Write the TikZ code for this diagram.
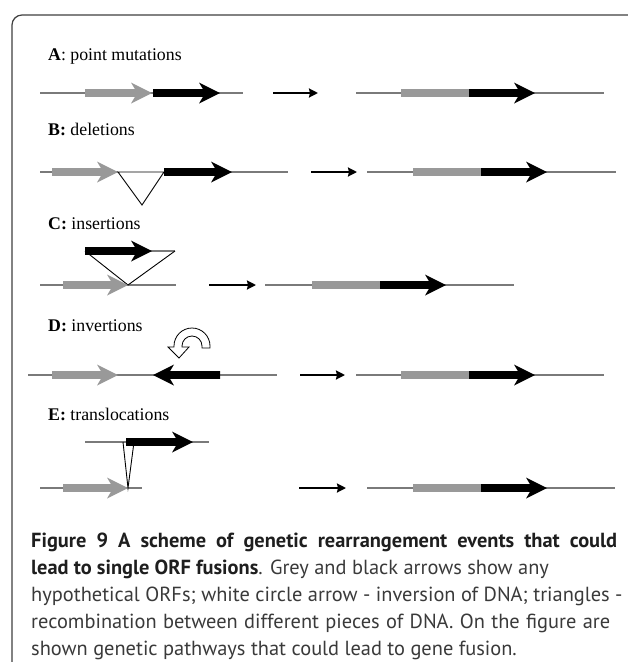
\documentclass[tikz,border=0pt]{standalone}
\usepackage{fontspec}
\setmainfont{Liberation Serif}
\newfontfamily\capfont{PT Sans}
\usetikzlibrary{arrows.meta}
\definecolor{ggrey}{HTML}{999999}
\definecolor{dnagrey}{HTML}{7A7A7A}
\definecolor{capgrey}{HTML}{3A3A3A}
\definecolor{capdark}{HTML}{1E1E1E}
% right-pointing ORF arrow: start x, tip x, y, colour
\newcommand\orfR[4]{\fill[#4] (#1,#3-3.8) -- (#2-17,#3-3.8) -- (#2-21,#3-10.5) -- (#2,#3) -- (#2-21,#3+10.5) -- (#2-17,#3+3.8) -- (#1,#3+3.8) -- cycle;}
% left-pointing ORF arrow: tip x, end x, y, colour
\newcommand\orfL[4]{\fill[#4] (#2,#3-3.8) -- (#1+17,#3-3.8) -- (#1+21,#3-10.5) -- (#1,#3) -- (#1+21,#3+10.5) -- (#1+17,#3+3.8) -- (#2,#3+3.8) -- cycle;}
% fused ORF: grey start x, tip x, y
\newcommand\fusedorf[3]{\fill[ggrey] (#1,#3-3.8) rectangle (#1+68,#3+3.8); \orfR{#1+68}{#2}{#3}{black}}
\newcommand\capbold[1]{{\bfseries\color{capdark}#1}}
\tikzset{
  dna/.style={draw=dnagrey, line width=1.3pt},
  tri/.style={draw=black, line width=0.9pt, line join=miter},
  react/.style={draw=black, line width=2.6pt, -{Stealth[length=9pt,width=9pt,inset=1pt]}},
  lbl/.style={anchor=base west, inner sep=0pt, font=\fontsize{17.8}{20}\selectfont},
  captxt/.style={anchor=base west, inner sep=0pt, text=capgrey, font=\capfont\fontsize{20.4}{24}\selectfont}
}
\begin{document}
\begin{tikzpicture}[x=1pt,y=-1pt]
\useasboundingbox (0,0) rectangle (628,662);
\clip (0,0) rectangle (628,662);
\fill[white] (0,0) rectangle (628,662);
% frame
\draw[line width=1.2pt, black!75, rounded corners=10pt] (12,690) -- (12,15) -- (638,15) -- (638,690);

% ---------- A ----------
\node[lbl] (la) at (48,60) {\textbf{A}: point mutations};
\draw[dna] (40,93) -- (243,93);
\orfR{85}{152}{93}{ggrey}
\orfR{153}{220}{93}{black}
\coordinate (ra1) at (273,93); \coordinate (ra2) at (318,93);
\draw[react] (ra1) -- (ra2);
\draw[dna] (356,93) -- (604,93);
\fusedorf{401}{535}{93}

% ---------- B ----------
\node[lbl] (lb) at (48,135) {\textbf{B:} deletions};
\draw[dna] (40,172) -- (118,172);
\draw[dna] (164,172) -- (288,172);
\draw[tri] (118,172) -- (164,172) -- (142,205) -- cycle;
\orfR{52}{118}{172}{ggrey}
\orfR{164}{232}{172}{black}
\coordinate (rb1) at (311,172); \coordinate (rb2) at (357,172);
\draw[react] (rb1) -- (rb2);
\draw[dna] (367,172) -- (616,172);
\fusedorf{413}{547}{172}

% ---------- C ----------
\node[lbl] (lc) at (48,229) {\textbf{C:} insertions};
\draw[dna] (40,285) -- (176,285);
\draw[dna] (150,251) -- (175,251);
\draw[tri] (85,251) -- (128,285) -- (175,251);
\orfR{63}{128}{285}{ggrey}
\orfR{85}{152}{251}{black}
\coordinate (rc1) at (209,285); \coordinate (rc2) at (256,285);
\draw[react] (rc1) -- (rc2);
\draw[dna] (265,285) -- (514,285);
\fusedorf{312}{446}{285}

% ---------- D ----------
\node[lbl] (ld) at (48,331) {\textbf{D:} invertions};
\filldraw[fill=white, draw=black, line width=0.8pt, line join=miter]
  (202,348) -- (210,348) -- (210,346) arc[start angle=0, end angle=-180, radius=18]
  -- (174,347) -- (168,347) -- (179,358) -- (189,347) -- (182,347) -- (182,346)
  arc[start angle=-180, end angle=0, radius=10] -- cycle;
\draw[dna] (28,375) -- (277,375);
\orfR{52}{118}{375}{ggrey}
\orfL{153}{220}{375}{black}
\coordinate (rd1) at (300,375); \coordinate (rd2) at (345,375);
\draw[react] (rd1) -- (rd2);
\draw[dna] (356,375) -- (604,375);
\fusedorf{401}{535}{375}

% ---------- E ----------
\node[lbl] (le) at (48,420) {\textbf{E:} translocations};
\draw[dna] (85,442) -- (209,442);
\draw[dna] (40,488) -- (142,488);
\draw[tri] (123,442) -- (128,488) -- (134,442);
\orfR{126}{193}{442}{black}
\orfR{63}{128}{488}{ggrey}
\coordinate (re1) at (299,488); \coordinate (re2) at (346,488);
\draw[react] (re1) -- (re2);
\draw[dna] (367,488) -- (615,488);
\fusedorf{413}{547}{488}

% ---------- caption ----------
\node[captxt] (c1) at (31,547) {\makebox[586pt][s]{\capbold{Figure 9 A scheme of genetic rearrangement events that could}}};
\node[captxt] (c2) at (31,574) {\capbold{lead to single ORF fusions}. Grey and black arrows show any};
\node[captxt] (c3) at (31,601) {hypothetical ORFs; white circle arrow - inversion of DNA; triangles -};
\node[captxt] (c4) at (31,628) {\makebox[579pt][s]{recombination between different pieces of DNA. On the figure are}};
\node[captxt] (c5) at (31,655) {shown genetic pathways that could lead to gene fusion.};
\end{tikzpicture}
\end{document}
